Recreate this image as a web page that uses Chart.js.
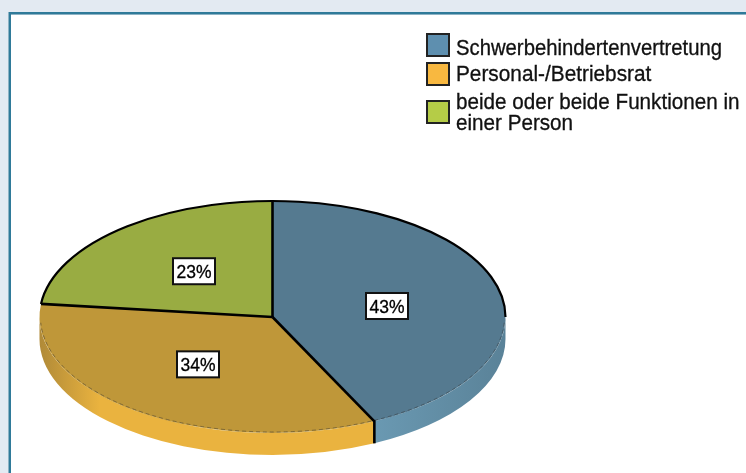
<!DOCTYPE html>
<html><head><meta charset="utf-8">
<script src="https://cdn.jsdelivr.net/npm/chart.js@4"></script>
<style>
html,body{margin:0;padding:0;width:746px;height:473px;overflow:hidden;background:#E3EAF2}
#frame{position:absolute;left:9px;top:12px;right:0;bottom:0;background:#fff;border-left:2px solid #2F7A99;border-top:2px solid #2F7A99;box-shadow:-1px 0 0 #8DB3C5,inset 0 1px 0 #8DB3C5}
canvas{position:absolute;left:0;top:0}
</style></head><body>
<div id="frame"></div>
<canvas id="c" width="746" height="473"></canvas>
<script>
const categories = ['Schwerbehindertenvertretung', 'Personal-/Betriebsrat', 'beide oder beide Funktionen in einer Person'];
const legendLines = [['Schwerbehindertenvertretung'], ['Personal-/Betriebsrat'], ['beide oder beide Funktionen in', 'einer Person']];
const shares = [42.8, 34, 23.2];
const topColors = ['#557A90', '#BF9739', '#99AC42'];
const wallColors = [['#6A99B2', '#5A8298'], ['#B08A38', '#EAB33F', '#EAB33F'], ['#99AC42', '#99AC42']];
const legendColors = ['#5E8FAF', '#F8B840', '#B5CC47'];

const SQUASH = 116 / 233, DEPTH = 22, CENTER_Y = 317;
const toScreenY = (el, y) => CENTER_Y + (y - el.y) * SQUASH;

function stretchedText(ctx, text, x, y, sy) {
  ctx.save();
  ctx.translate(x, y);
  ctx.scale(1, sy);
  ctx.lineWidth = 0.3;
  ctx.strokeStyle = ctx.fillStyle;
  ctx.fillText(text, 0, 0);
  ctx.strokeText(text, 0, 0);
  ctx.restore();
}

const pie3d = {
  id: 'pie3d',
  beforeDatasetsDraw(chart) {
    const ctx = chart.ctx, arcs = chart.getDatasetMeta(0).data;
    arcs.forEach((el, i) => {
      const a = Math.max(el.startAngle, 0), b = Math.min(el.endAngle, Math.PI);
      if (b <= a) return;
      const rx = el.outerRadius, ry = rx * SQUASH;
      const x0 = el.x + Math.cos(b) * rx, x1 = el.x + Math.cos(a) * rx;
      const g = ctx.createLinearGradient(x0, 0, x1, 0);
      const stops = wallColors[i];
      stops.forEach((c, k) => g.addColorStop(k === 2 ? 1 : k === 1 && stops.length === 3 ? 0.18 : k, c));
      ctx.save();
      ctx.beginPath();
      ctx.ellipse(el.x, CENTER_Y, rx, ry, 0, a, b);
      ctx.ellipse(el.x, CENTER_Y + DEPTH, rx, ry, 0, b, a, true);
      ctx.closePath();
      ctx.fillStyle = g;
      ctx.fill();
      ctx.restore();
    });
    ctx.save();
    const el = arcs[0];
    ctx.translate(el.x, CENTER_Y);
    ctx.scale(1, SQUASH);
    ctx.translate(-el.x, -el.y);
  },
  afterDatasetsDraw(chart) {
    const ctx = chart.ctx, arcs = chart.getDatasetMeta(0).data;
    ctx.restore();
    const first = arcs[0], rx = first.outerRadius, ry = rx * SQUASH, cx = first.x;
    ctx.save();
    // thin dashed rim of the front of the top face
    ctx.beginPath();
    ctx.ellipse(cx, CENTER_Y, rx - 1, ry - 1, 0, 0.05, Math.PI - 0.05);
    ctx.setLineDash([4, 3]);
    ctx.lineWidth = 1;
    ctx.strokeStyle = 'rgba(50,50,50,0.45)';
    ctx.stroke();
    ctx.setLineDash([]);
    // back outline
    ctx.lineWidth = 2.2;
    ctx.strokeStyle = '#000';
    const split = arcs[1].endAngle;
    ctx.beginPath();
    ctx.ellipse(cx, CENTER_Y, rx, ry, 0, split, Math.PI * 2);
    ctx.stroke();
    // slice edges
    ctx.lineWidth = 2.6;
    arcs.forEach(el => {
      ctx.beginPath();
      ctx.moveTo(cx, CENTER_Y);
      ctx.lineTo(cx + Math.cos(el.startAngle) * rx, CENTER_Y + Math.sin(el.startAngle) * ry);
      ctx.stroke();
    });
    // vertical edge at the front split
    const a = arcs[1].startAngle;
    const ex = cx + Math.cos(a) * rx, ey = CENTER_Y + Math.sin(a) * ry;
    ctx.beginPath();
    ctx.moveTo(ex, ey - 1);
    ctx.lineTo(ex, ey + DEPTH);
    ctx.stroke();
    // value labels
    const nudge = [[1, 2], [-7, 0], [-1, -2.5]];
    ctx.font = '17.5px "Liberation Sans", Arial, sans-serif';
    ctx.textAlign = 'center';
    ctx.textBaseline = 'alphabetic';
    arcs.forEach((el, i) => {
      const p = el.getCenterPoint();
      const lx = Math.round(p.x + nudge[i][0]), ly = toScreenY(el, p.y) + nudge[i][1];
      ctx.fillStyle = '#fff';
      ctx.fillRect(lx - 21, ly - 13, 42, 26);
      ctx.lineWidth = 2;
      ctx.strokeStyle = '#111';
      ctx.strokeRect(lx - 21, ly - 13, 42, 26);
      ctx.fillStyle = '#000';
      stretchedText(ctx, Math.round(shares[i]) + '%', lx, ly + 7, 1.1);
    });
    // legend
    const boxes = [33, 62, 100], baselines = [[55], [81], [109, 130]];
    const sizes = [20.3, 20.8, 20.65];
    ctx.textAlign = 'left';
    legendColors.forEach((c, i) => {
      ctx.fillStyle = c;
      ctx.fillRect(427, boxes[i] + 1, 22, 22);
      ctx.lineWidth = 2;
      ctx.strokeStyle = '#222';
      ctx.strokeRect(427, boxes[i] + 1, 22, 22);
      ctx.fillStyle = '#111';
      ctx.font = sizes[i] + 'px "Liberation Sans", Arial, sans-serif';
      legendLines[i].forEach((t, k) => stretchedText(ctx, t, 456, baselines[i][k], 1.1));
    });
    ctx.restore();
  }
};

new Chart(document.getElementById('c'), {
  type: 'pie',
  data: { labels: categories, datasets: [{ data: shares, backgroundColor: topColors, borderWidth: 0 }] },
  options: {
    responsive: false,
    animation: false,
    layout: { padding: { left: 39, right: 240, top: 0, bottom: 7 } },
    plugins: { legend: { display: false }, tooltip: { enabled: false } }
  },
  plugins: [pie3d]
});
</script>
</body></html>
